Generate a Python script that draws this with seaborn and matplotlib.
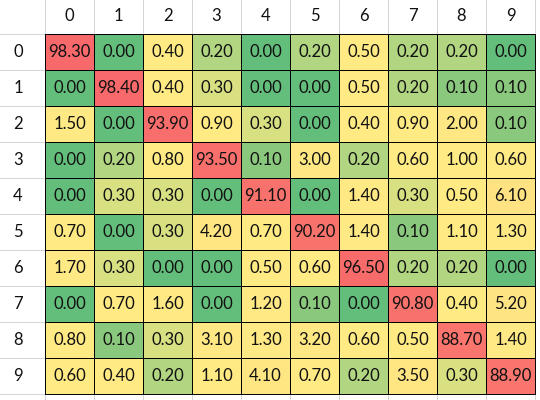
import matplotlib
matplotlib.use("Agg")
import matplotlib.pyplot as plt
import numpy as np
import pandas as pd
import seaborn as sns
from matplotlib.colors import LinearSegmentedColormap, TwoSlopeNorm

labels = ["0", "1", "2", "3", "4", "5", "6", "7", "8", "9"]
row_0 = [98.30, 0.00, 0.40, 0.20, 0.00, 0.20, 0.50, 0.20, 0.20, 0.00]
row_1 = [0.00, 98.40, 0.40, 0.30, 0.00, 0.00, 0.50, 0.20, 0.10, 0.10]
row_2 = [1.50, 0.00, 93.90, 0.90, 0.30, 0.00, 0.40, 0.90, 2.00, 0.10]
row_3 = [0.00, 0.20, 0.80, 93.50, 0.10, 3.00, 0.20, 0.60, 1.00, 0.60]
row_4 = [0.00, 0.30, 0.30, 0.00, 91.10, 0.00, 1.40, 0.30, 0.50, 6.10]
row_5 = [0.70, 0.00, 0.30, 4.20, 0.70, 90.20, 1.40, 0.10, 1.10, 1.30]
row_6 = [1.70, 0.30, 0.00, 0.00, 0.50, 0.60, 96.50, 0.20, 0.20, 0.00]
row_7 = [0.00, 0.70, 1.60, 0.00, 1.20, 0.10, 0.00, 90.80, 0.40, 5.20]
row_8 = [0.80, 0.10, 0.30, 3.10, 1.30, 3.20, 0.60, 0.50, 88.70, 1.40]
row_9 = [0.60, 0.40, 0.20, 1.10, 4.10, 0.70, 0.20, 3.50, 0.30, 88.90]


def main():
    df = pd.DataFrame([row_0, row_1, row_2, row_3, row_4, row_5, row_6, row_7, row_8, row_9],
                      index=labels, columns=labels)
    vals = df.values.ravel()

    # excel style 3-color scale: min green, median yellow, max red
    cmap = LinearSegmentedColormap.from_list("excel", ["#63BE7B", "#FFEB84", "#F8696B"])
    norm = TwoSlopeNorm(vmin=vals.min(), vcenter=np.percentile(vals, 50), vmax=vals.max())

    plt.rcParams['font.family'] = ['Lato', 'DejaVu Sans']
    fig = plt.figure(figsize=(5.4, 4), dpi=100)
    ax = fig.add_axes([45 / 540, 1 - 394 / 400, 490 / 540, 360 / 400])

    fs = 12
    sns.heatmap(df, ax=ax, cmap=cmap, norm=norm, annot=True, fmt=".2f", cbar=False,
                linewidths=0.6, linecolor="black",
                annot_kws={"color": "#111111", "fontsize": fs})

    ax.xaxis.tick_top()
    ax.tick_params(length=0, labelsize=fs, colors="#111111")
    ax.tick_params(axis="x", pad=7)
    ax.tick_params(axis="y", pad=16, rotation=0)
    ax.set_xlabel("")
    ax.set_ylabel("")
    for s in ax.spines.values():
        s.set_visible(True)
        s.set_color("black")
        s.set_linewidth(0.7)

    # spreadsheet gridlines around the table
    gray = "#D4D4D4"
    hx = -45 / 49
    hy = -34 / 36
    by = 10 + 8 / 36
    for i in range(11):
        ax.plot([i, i], [hy, 0], color=gray, lw=0.7, clip_on=False, zorder=0)
        ax.plot([i, i], [10, by], color=gray, lw=0.7, clip_on=False, zorder=0)
        ax.plot([hx, 0], [i, i], color=gray, lw=0.7, clip_on=False, zorder=0)

    fig.savefig("out.png", dpi=100)


if __name__ == "__main__":
    main()
